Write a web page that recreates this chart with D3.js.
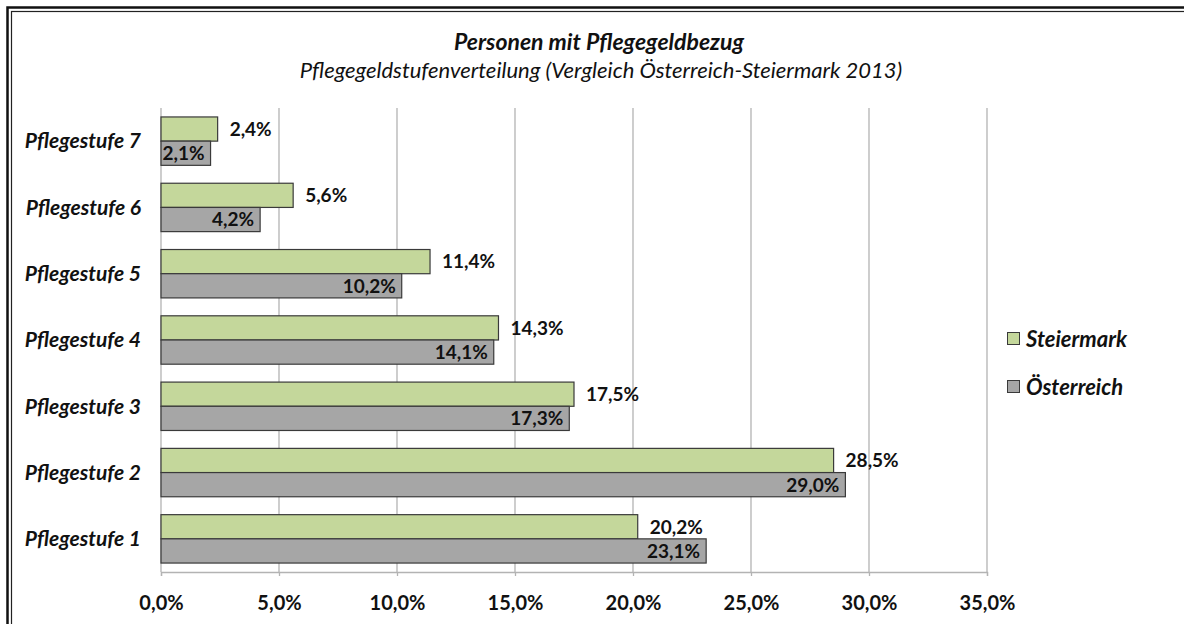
<!DOCTYPE html>
<html><head><meta charset="utf-8">
<script src="https://cdn.jsdelivr.net/npm/d3@7"></script>
<style>
html,body{margin:0;padding:0;background:#fff;}
svg{display:block;font-family:Lato,"Open Sans",sans-serif;}
</style></head>
<body><svg id="c" width="1184" height="624"></svg>
<script>
const categories = ["Pflegestufe 1","Pflegestufe 2","Pflegestufe 3","Pflegestufe 4","Pflegestufe 5","Pflegestufe 6","Pflegestufe 7"];
const steiermark = [20.2, 28.5, 17.5, 14.3, 11.4, 5.6, 2.4];
const oesterreich = [23.1, 29.0, 17.3, 14.1, 10.2, 4.2, 2.1];
const seriesNames = ["Steiermark","Österreich"];
const tickValues = [0,5,10,15,20,25,30,35];
const title = "Personen mit Pflegegeldbezug";
const subtitle = "Pflegegeldstufenverteilung (Vergleich Österreich-Steiermark 2013)";

const colors = ["#c4d79b","#a6a6a6"];
const svg = d3.select("#c");
const fmt = v => v.toFixed(1).replace(".", ",") + "%";

// border
svg.append("rect").attr("x",7.5).attr("y",7.5).attr("width",1200).attr("height",700)
  .attr("fill","none").attr("stroke","#111").attr("stroke-width",2.5);
svg.append("rect").attr("x",11.5).attr("y",11.5).attr("width",1200).attr("height",700)
  .attr("fill","none").attr("stroke","#222").attr("stroke-width",1.2);

const x0 = 161, x1 = 987, yTop = 108, yBot = 572;
const x = d3.scaleLinear().domain([0,35]).range([x0,x1]);
const yCats = categories.slice().reverse(); // top = Pflegestufe 7
const y = d3.scaleBand().domain(yCats).range([yTop,yBot]).paddingInner(0.27).paddingOuter(0.135);
const ys = d3.scaleBand().domain(seriesNames).range([0,y.bandwidth()]);

// gridlines
svg.append("g").selectAll("line").data(tickValues.filter(d=>d>0)).join("line")
  .attr("x1",d=>x(d)).attr("x2",d=>x(d)).attr("y1",yTop).attr("y2",yBot)
  .attr("stroke","#b3b3b3").attr("stroke-width",1.3);

// x axis
const xAxis = d3.axisBottom(x).tickValues(tickValues).tickSize(4).tickFormat(fmt);
const gx = svg.append("g").attr("transform",`translate(0,${yBot})`).call(xAxis);
gx.select(".domain").attr("stroke","#b3b3b3").attr("stroke-width",1.3);
gx.selectAll(".tick line").attr("stroke","#b3b3b3").attr("stroke-width",1.3);
gx.selectAll(".tick text").attr("y",24).attr("font-size",20).attr("font-weight","bold").attr("fill","#111")
  .attr("font-family","Lato,sans-serif");

// y axis line
svg.append("line").attr("x1",x0).attr("x2",x0).attr("y1",yTop).attr("y2",yBot)
  .attr("stroke","#b3b3b3").attr("stroke-width",1.3);

// category labels
svg.append("g").selectAll("text").data(categories).join("text")
  .attr("x",141).attr("y",d=>y(d)+y.bandwidth()/2).attr("dy","0.35em")
  .attr("text-anchor","end").attr("font-size",21).attr("font-weight","bold").attr("font-style","italic")
  .attr("fill","#111").text(d=>d);

const rows = categories.map((c,i)=>({c, vals:[steiermark[i], oesterreich[i]]}));
const g = svg.append("g");
rows.forEach(r=>{
  r.vals.forEach((v,j)=>{
    const yy = y(r.c) + ys(seriesNames[j]);
    g.append("rect").attr("x",x(0)).attr("y",yy).attr("width",x(v)-x(0)).attr("height",ys.bandwidth())
      .attr("fill",colors[j]).attr("stroke","#3a3a3a").attr("stroke-width",1.2);
    const t = g.append("text").attr("y",yy+ys.bandwidth()/2).attr("dy","0.36em")
      .attr("font-size",19).attr("font-weight","bold").attr("fill","#111").text(fmt(v));
    if(j===0){ t.attr("x",x(v)+12).attr("text-anchor","start"); }
    else { t.attr("x",x(v)-6).attr("text-anchor","end"); }
  });
});

// titles
svg.append("text").attr("x",599).attr("y",50).attr("text-anchor","middle").attr("font-size",23)
  .attr("font-weight","bold").attr("font-style","italic").attr("fill","#111").text(title);
svg.append("text").attr("x",601).attr("y",78).attr("text-anchor","middle").attr("font-size",22)
  .attr("font-style","italic").attr("fill","#111").text(subtitle);

// legend
const lg = svg.append("g");
seriesNames.forEach((s,i)=>{
  const cy = 339 + i*48;
  lg.append("rect").attr("x",1007.5).attr("y",cy-6.5).attr("width",12).attr("height",12)
    .attr("fill",colors[i]).attr("stroke","#3a3a3a").attr("stroke-width",1);
  lg.append("text").attr("x",1026).attr("y",cy).attr("dy","0.35em").attr("font-size",22)
    .attr("font-weight","bold").attr("font-style","italic").attr("fill","#111").text(s);
});
</script></body></html>
